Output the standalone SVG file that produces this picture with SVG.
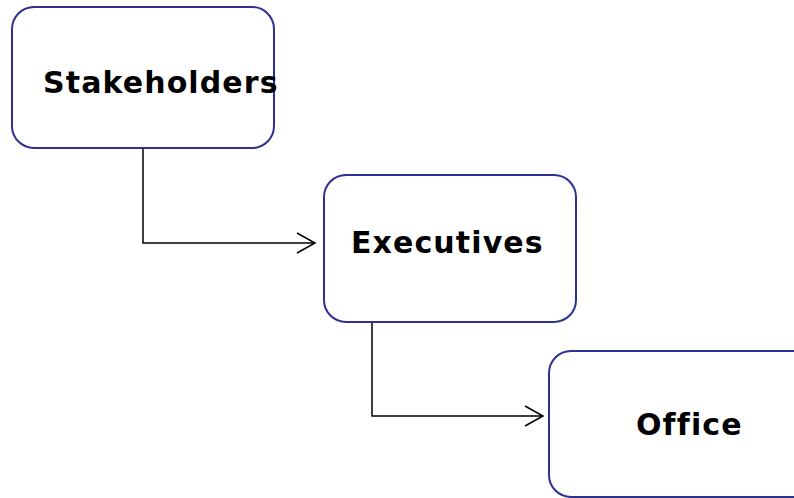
<svg xmlns="http://www.w3.org/2000/svg" width="794" height="498" viewBox="0 0 794 498">
<defs>
<style>
.box{fill:#fff;stroke:#2e3192;stroke-width:2}
.lbl{font-family:"DejaVu Sans",Verdana,sans-serif;font-weight:bold;font-size:30px;letter-spacing:1.1px;fill:#000}
.con{fill:none;stroke:#000;stroke-width:1.5}
</style>
<marker id="arr" markerWidth="22" markerHeight="24" refX="19" refY="11" orient="auto" markerUnits="userSpaceOnUse">
<path d="M1,1 L19,11 L1,21" fill="none" stroke="#000" stroke-width="1.5"/>
</marker>
</defs>
<rect width="794" height="498" fill="#fff"/>
<g id="connectors">
<path class="con" d="M143,148 V243 H315" marker-end="url(#arr)"/>
<path class="con" d="M372,322 V416 H543" marker-end="url(#arr)"/>
</g>
<g id="node-stakeholders">
<rect class="box" x="12" y="7" width="262" height="141" rx="22"/>
<text class="lbl" x="43" y="93">Stakeholders</text>
</g>
<g id="node-executives">
<rect class="box" x="324" y="175" width="252" height="147" rx="22"/>
<text class="lbl" x="351" y="253">Executives</text>
</g>
<g id="node-office">
<rect class="box" x="549" y="351" width="277" height="146" rx="22"/>
<text class="lbl" x="636" y="435">Office</text>
</g>
</svg>
